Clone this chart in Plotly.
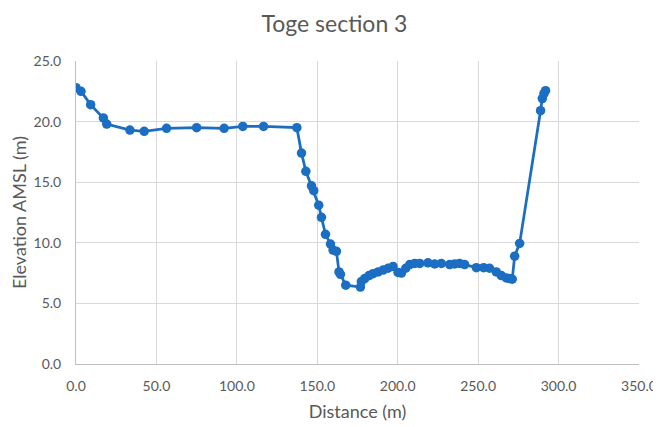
import plotly.graph_objects as go

distance = [0, 3.1, 9.1, 17.0, 19.1, 33.5, 42.4, 56.3, 75.0, 92.1, 103.7, 116.6,
            137.3, 140.2, 142.9, 146.4, 147.8, 150.9, 152.6, 155.1, 158.2, 159.8,
            161.9, 163.5, 164.4, 167.7, 176.8, 177.4, 179.5, 182.2, 184.7, 187.8,
            190.9, 194.0, 197.1, 200.2, 202.3, 205.0, 207.5, 210.6, 213.7, 218.8,
            223.0, 227.1, 232.3, 235.4, 238.5, 241.6, 248.9, 253.4, 257.1, 261.3,
            264.4, 267.5, 269.6, 271.2, 272.7, 275.8, 288.8, 289.9, 290.9, 291.9]
elevation = [22.8, 22.5, 21.4, 20.3, 19.8, 19.3, 19.2, 19.45, 19.5, 19.45, 19.6, 19.6,
             19.5, 17.4, 15.9, 14.7, 14.3, 13.1, 12.1, 10.7, 9.9, 9.4,
             9.3, 7.6, 7.4, 6.5, 6.35, 6.8, 7.05, 7.3, 7.45, 7.6,
             7.75, 7.9, 8.05, 7.55, 7.5, 7.9, 8.2, 8.3, 8.3, 8.35,
             8.25, 8.3, 8.2, 8.25, 8.3, 8.2, 7.95, 7.95, 7.9, 7.6,
             7.3, 7.1, 7.05, 7.0, 8.9, 9.95, 20.9, 21.9, 22.3, 22.55]

x_ticks = [0, 50, 100, 150, 200, 250, 300, 350]
y_ticks = [0, 5, 10, 15, 20, 25]

blue = "#1B6EC2"
grey_text = "#595959"
font_family = "Lato, 'Open Sans', sans-serif"

fig = go.Figure(go.Scatter(
    x=distance, y=elevation, mode="lines+markers",
    line=dict(color=blue, width=2.75),
    marker=dict(color=blue, size=9.5),
    showlegend=False,
))

# page body has an 8px default margin, so the figure is sized to fit inside it
fig.update_layout(
    width=653, height=419,
    margin=dict(l=68, r=22, t=53, b=63),
    paper_bgcolor="white", plot_bgcolor="white",
    font=dict(family=font_family, color=grey_text, size=14),
    title=dict(text="Toge section 3", x=0.5, xanchor="center", y=0.963, yanchor="middle",
               font=dict(size=23, color=grey_text, family=font_family)),
)
fig.update_xaxes(
    range=[0, 350], tickvals=x_ticks, ticktext=[f"{v:.1f}" for v in x_ticks],
    showgrid=True, gridcolor="#D9D9D9", gridwidth=1,
    showline=True, linecolor="#BFBFBF", linewidth=1,
    zeroline=False, ticks="", ticklabelstandoff=9, automargin=False,
    title=dict(text="Distance (m)", font=dict(size=18, color=grey_text), standoff=12),
    tickfont=dict(size=14, color=grey_text),
)
fig.update_yaxes(
    range=[0, 25], tickvals=y_ticks, ticktext=[f"{v:.1f}" for v in y_ticks],
    showgrid=True, gridcolor="#D9D9D9", gridwidth=1,
    showline=True, linecolor="#BFBFBF", linewidth=1,
    zeroline=False, ticks="", ticklabelstandoff=11, automargin=False,
    title=dict(text="Elevation AMSL (m)", font=dict(size=18, color=grey_text), standoff=6),
    tickfont=dict(size=14, color=grey_text),
)

fig.write_html("out.html")
